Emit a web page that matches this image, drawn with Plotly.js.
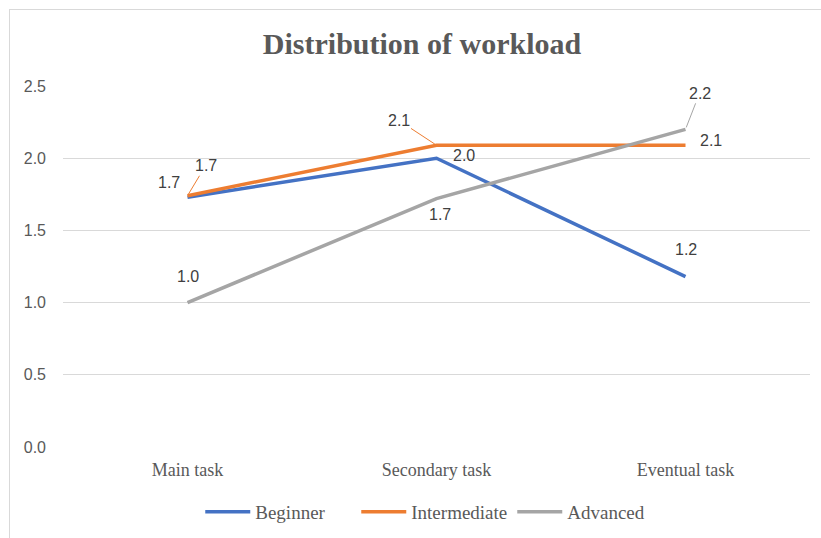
<!DOCTYPE html>
<html>
<head>
<meta charset="utf-8">
<script src="https://cdn.plot.ly/plotly-3.0.1.min.js"></script>
<style>
  html, body { margin: 0; padding: 0; background: #fff; }
  #chart { width: 821px; height: 538px; position: relative; }
  #frame { position: absolute; left: 9px; top: 9px; width: 830px; height: 540px;
           border-left: 1.5px solid #d9d9d9; border-top: 1.5px solid #d9d9d9; pointer-events: none; }
</style>
</head>
<body>
<div id="chart"></div>
<div id="frame"></div>
<script>
const categories = ["Main task", "Secondary task", "Eventual task"];
const seriesNames = ["Beginner", "Intermediate", "Advanced"];
const beginner = [1.73, 2.00, 1.18];
const intermediate = [1.74, 2.09, 2.09];
const advanced = [1.00, 1.72, 2.20];
const yTickVals = [0, 0.5, 1.0, 1.5, 2.0, 2.5];
const yTickText = ["0.0", "0.5", "1.0", "1.5", "2.0", "2.5"];

const colors = ["#4472C4", "#ED7D31", "#A5A5A5"];
const allSeries = [beginner, intermediate, advanced];

// label placement (pixel offsets) per series / point; leader = draw leader line
const labelPos = [
  [{dx:-19, dy:-15}, {dx:27, dy:-3}, {dx:0, dy:-27}],
  [{dx:18, dy:-30, leader:true}, {dx:-38, dy:-25, leader:true}, {dx:25, dy:-5}],
  [{dx:0, dy:-26}, {dx:3, dy:16}, {dx:14, dy:-36, leader:true}]
];

const traces = allSeries.map((vals, i) => ({
  type: "scatter",
  mode: "lines",
  name: seriesNames[i],
  x: categories,
  y: vals,
  line: {color: colors[i], width: 3.5},
  hoverinfo: "x+y+name"
}));

const annotations = [];
allSeries.forEach((vals, i) => {
  vals.forEach((v, j) => {
    const p = labelPos[i][j];
    const a = {
      x: categories[j], y: v, xref: "x", yref: "y",
      text: v.toFixed(1),
      font: {family: "Liberation Sans, Arial, sans-serif", size: 16, color: "#404040"}
    };
    if (p.leader) {
      Object.assign(a, {showarrow: true, ax: p.dx, ay: p.dy, arrowhead: 0,
        arrowwidth: 1, arrowcolor: colors[i], standoff: 2});
    } else {
      Object.assign(a, {showarrow: false, xshift: p.dx, yshift: -p.dy});
    }
    annotations.push(a);
  });
});

const layout = {
  width: 821, height: 538,
  margin: {l: 63, r: 11, t: 86, b: 91, autoexpand: false},
  paper_bgcolor: "rgba(0,0,0,0)",
  plot_bgcolor: "#ffffff",
  title: {
    text: "<b>Distribution of workload</b>",
    font: {family: "Liberation Serif, Times New Roman, serif", size: 30, color: "#595959"},
    x: 422/821, xref: "container", xanchor: "center",
    y: 1 - 43/538, yref: "container", yanchor: "middle"
  },
  xaxis: {
    type: "category",
    range: [-0.5, 2.5],
    showgrid: false, zeroline: false, showline: false,
    ticks: "", tickangle: 0,
    ticklabelstandoff: 10,
    tickfont: {family: "Liberation Serif, Times New Roman, serif", size: 18, color: "#595959"}
  },
  yaxis: {
    range: [0, 2.5],
    tickvals: yTickVals, ticktext: yTickText,
    showgrid: true, gridcolor: "#d9d9d9", gridwidth: 1,
    zeroline: false, showline: false, ticks: "",
    ticklabelstandoff: 16,
    tickfont: {family: "Liberation Sans, Arial, sans-serif", size: 16, color: "#595959"}
  },
  legend: {
    orientation: "h", x: 0.497, xanchor: "center", y: -0.18, yanchor: "middle",
    itemwidth: 45, entrywidth: 96, entrywidthmode: "pixels",
    font: {family: "Liberation Serif, Times New Roman, serif", size: 19, color: "#595959"},
    bgcolor: "rgba(0,0,0,0)"
  },
  annotations: annotations,
  showlegend: true
};

Plotly.newPlot("chart", traces, layout, {displayModeBar: false, staticPlot: true});
</script>
</body>
</html>
